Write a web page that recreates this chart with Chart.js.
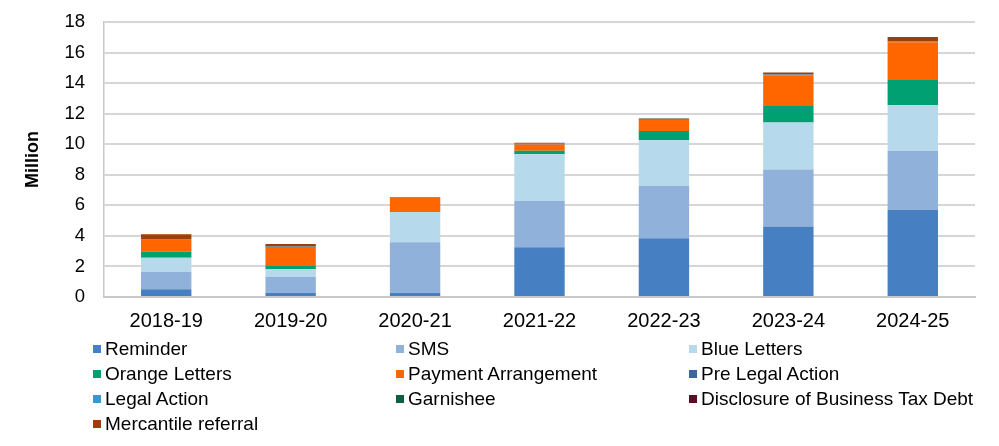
<!DOCTYPE html>
<html>
<head>
<meta charset="utf-8">
<script src="https://cdn.jsdelivr.net/npm/chart.js@4/dist/chart.umd.min.js"></script>
<style>
  body { margin: 0; background: #fff; font-family: "Liberation Sans", Arial, sans-serif; }
  #wrap { position: relative; width: 999px; height: 446px; }
  #chart { position: absolute; left: 0; top: 0; }
  #legend { position: absolute; left: 93px; top: 336px; width: 900px; font-size: 19px; color: #000; }
  .row { display: flex; height: 25px; line-height: 25px; }
  .item { display: flex; align-items: center; }
  .item:nth-child(1) { width: 303px; }
  .item:nth-child(2) { width: 293px; }
  .box { width: 8px; height: 8px; margin-right: 4px; }
</style>
</head>
<body>
<div id="wrap">
  <canvas id="chart" width="999" height="354"></canvas>
  <div id="legend"></div>
</div>
<script>
// categories and series (million)
const years = ['2018-19', '2019-20', '2020-21', '2021-22', '2022-23', '2023-24', '2024-25'];
const reminder = [0.5, 0.28, 0.26, 3.25, 3.84, 4.61, 5.69];
const sms = [1.16, 1.05, 3.32, 3.05, 3.45, 3.74, 3.89];
const blueLetters = [0.91, 0.5, 1.96, 3.04, 2.99, 3.07, 2.97];
const orangeLetters = [0.39, 0.2, 0.03, 0.24, 0.59, 1.13, 1.65];
const paymentArrangement = [0.77, 1.2, 0.91, 0.41, 0.72, 1.95, 2.47];
const preLegalAction = [0.04, 0.04, 0.04, 0.05, 0.05, 0.04, 0.04];
const legalAction = [0.02, 0.02, 0.02, 0.03, 0.02, 0.02, 0.02];
const garnishee = [0.01, 0.01, 0.01, 0.01, 0.01, 0.01, 0.01];
const disclosure = [0, 0, 0, 0, 0, 0, 0];
const mercantile = [0.3, 0.17, 0, 0.02, 0.03, 0.12, 0.28];
const yTicks = [0, 2, 4, 6, 8, 10, 12, 14, 16, 18];

const series = [
    { label: 'Reminder', data: reminder, color: '#4680c2' },
    { label: 'SMS', data: sms, color: '#90b2da' },
    { label: 'Blue Letters', data: blueLetters, color: '#b6d9ec' },
    { label: 'Orange Letters', data: orangeLetters, color: '#00a072' },
    { label: 'Payment Arrangement', data: paymentArrangement, color: '#ff6600' },
    { label: 'Pre Legal Action', data: preLegalAction, color: '#3a66a3' },
    { label: 'Legal Action', data: legalAction, color: '#3598d4' },
    { label: 'Garnishee', data: garnishee, color: '#0c5e45' },
    { label: 'Disclosure of Business Tax Debt', data: disclosure, color: '#5e0b24' },
    { label: 'Mercantile referral', data: mercantile, color: '#9e3f0a' }
];

const family = '"Liberation Sans", Arial, sans-serif';

new Chart(document.getElementById('chart'), {
    type: 'bar',
    data: {
        labels: years,
        datasets: series.map(s => ({
            label: s.label,
            data: s.data,
            backgroundColor: s.color,
            borderWidth: 0,
            barPercentage: 1,
            categoryPercentage: 0.405
        }))
    },
    options: {
        responsive: false,
        devicePixelRatio: 1,
        animation: false,
        layout: { padding: { top: 22, right: 24, bottom: 9, left: 0 } },
        plugins: { legend: { display: false }, tooltip: { enabled: false } },
        scales: {
            x: {
                stacked: true,
                grid: { display: false, drawTicks: false },
                border: { color: '#c8c8c8', width: 2 },
                ticks: { color: '#000', font: { family: family, size: 20 }, padding: 12 }
            },
            y: {
                stacked: true,
                min: 0,
                max: 18,
                afterBuildTicks: (axis) => { axis.ticks = yTicks.map(v => ({ value: v })); },
                afterFit: (axis) => { axis.width = 104; },
                // invisible tick marks keep the labels off the axis without padding the top
                grid: { color: '#d6d6d6', lineWidth: 2, drawTicks: true, tickLength: 19, tickColor: 'rgba(0,0,0,0)' },
                border: { color: '#c8c8c8', width: 1.5 },
                ticks: { color: '#000', font: { family: family, size: 18.5 }, padding: 0 },
                title: {
                    display: true,
                    text: 'Million',
                    color: '#000',
                    font: { family: family, size: 18, weight: 'bold' },
                    padding: { top: 22, bottom: 0 }
                }
            }
        }
    }
});

// legend in three columns
const legend = document.getElementById('legend');
for (let i = 0; i < series.length; i += 3) {
    const row = document.createElement('div');
    row.className = 'row';
    series.slice(i, i + 3).forEach(s => {
        const item = document.createElement('div');
        item.className = 'item';
        item.innerHTML = `<span class="box" style="background:${s.color}"></span><span>${s.label}</span>`;
        row.appendChild(item);
    });
    legend.appendChild(row);
}
</script>
</body>
</html>
